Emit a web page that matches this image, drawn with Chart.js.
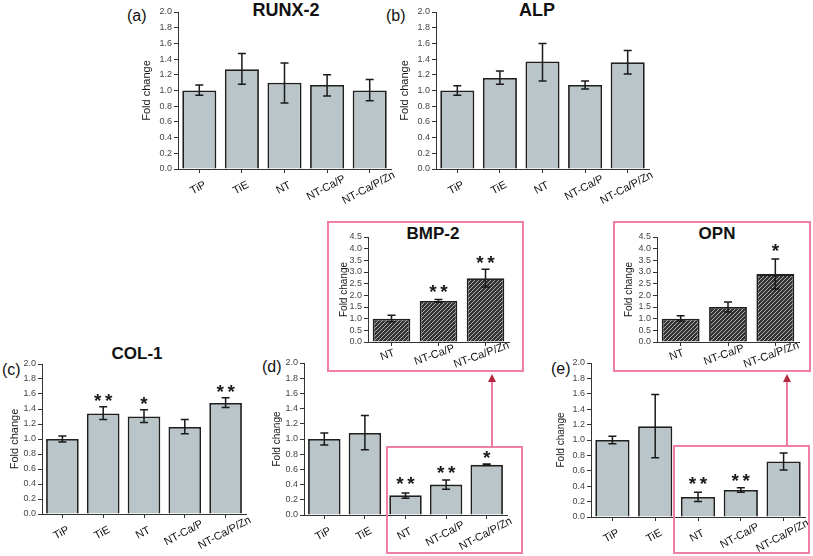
<!DOCTYPE html>
<html>
<head>
<meta charset="utf-8">
<script src="https://cdn.jsdelivr.net/npm/chart.js@4.4.1/dist/chart.umd.min.js"></script>
<style>
  body { margin: 0; background: #fff; width: 813px; height: 556px; position: relative; overflow: hidden;
         font-family: "Liberation Sans", Arial, sans-serif; }
  canvas { position: absolute; }
  .lbl { position: absolute; font-size: 16px; color: #111; line-height: 1; transform: translateY(-50%); }
  .ttl { position: absolute; font-weight: bold; color: #111; transform: translate(-50%, -50%); white-space: nowrap; line-height: 1; }
  .box { position: absolute; border: 2px solid #ef7fa7; box-sizing: border-box; z-index: 5; }
  .arr { position: absolute; width: 2px; background: #ec7aa2; z-index: 5; }
  .head { position: absolute; width: 0; height: 0; border-left: 4px solid transparent; z-index: 6;
          border-right: 4px solid transparent; border-bottom: 8px solid #b3283f; }
</style>
</head>
<body>
<!-- 粉色框与箭头 -->
<div class="box" style="left:327px;top:221px;width:197px;height:151px"></div>
<div class="box" style="left:613px;top:221px;width:198px;height:151px"></div>
<div class="box" style="left:386px;top:446px;width:137px;height:108px"></div>
<div class="box" style="left:673px;top:445px;width:137px;height:109px"></div>
<div class="arr" style="left:491px;top:381px;height:66px"></div>
<div class="head" style="left:488px;top:374px"></div>
<div class="arr" style="left:786px;top:381px;height:65px"></div>
<div class="head" style="left:783px;top:374px"></div>

<div class="lbl" style="left:127px;top:16px">(a)</div>
<div class="lbl" style="left:386px;top:16px">(b)</div>
<div class="lbl" style="left:2px;top:370px">(c)</div>
<div class="lbl" style="left:262px;top:367px">(d)</div>
<div class="lbl" style="left:551px;top:369px">(e)</div>

<div class="ttl" style="left:286px;top:10px;font-size:18px">RUNX-2</div>
<div class="ttl" style="left:537px;top:10px;font-size:18px">ALP</div>
<div class="ttl" style="left:137px;top:353px;font-size:17px">COL-1</div>
<div class="ttl" style="left:433px;top:233px;font-size:17px">BMP-2</div>
<div class="ttl" style="left:717px;top:233px;font-size:17px">OPN</div>

<script>
const mainCats = ["TiP", "TiE", "NT", "NT-Ca/P", "NT-Ca/P/Zn"];
const insetCats = ["NT", "NT-Ca/P", "NT-Ca/P/Zn"];
const mainTicks = [0, 0.2, 0.4, 0.6, 0.8, 1.0, 1.2, 1.4, 1.6, 1.8, 2.0];
const insetTicks = [0, 0.5, 1.0, 1.5, 2.0, 2.5, 3.0, 3.5, 4.0, 4.5];

// (a) RUNX-2
const runxMean = [1.0, 1.27, 1.10, 1.07, 1.0];
const runxLo = [0.94, 1.08, 0.84, 0.93, 0.87];
const runxHi = [1.07, 1.47, 1.35, 1.20, 1.14];

// (b) ALP
const alpMean = [1.0, 1.16, 1.37, 1.07, 1.36];
const alpLo = [0.94, 1.08, 1.12, 1.02, 1.21];
const alpHi = [1.06, 1.25, 1.60, 1.12, 1.51];

// (c) COL-1
const colMean = [1.0, 1.34, 1.30, 1.16, 1.48];
const colLo = [0.96, 1.26, 1.22, 1.07, 1.42];
const colHi = [1.04, 1.43, 1.39, 1.26, 1.55];
const colStars = ["", "**", "*", "", "**"];
const colStarAt = [0, 1.56, 1.52, 0, 1.68];

// (d)
const dMean = [1.0, 1.08, 0.26, 0.40, 0.66];
const dLo = [0.92, 0.86, 0.22, 0.34, 0.655];
const dHi = [1.08, 1.31, 0.29, 0.46, 0.67];
const dStars = ["", "", "**", "**", "*"];
const dStarAt = [0, 0, 0.46, 0.61, 0.80];

// (e)
const eMean = [1.0, 1.18, 0.26, 0.35, 0.72];
const eLo = [0.95, 0.77, 0.20, 0.32, 0.61];
const eHi = [1.05, 1.59, 0.32, 0.38, 0.83];
const eStars = ["", "", "**", "**", ""];
const eStarAt = [0, 0, 0.48, 0.52, 0];

// BMP-2 插图
const bmpMean = [1.0, 1.76, 2.73];
const bmpLo = [0.87, 1.70, 2.36];
const bmpHi = [1.15, 1.82, 3.12];
const bmpStars = ["", "**", "**"];
const bmpStarAt = [0, 2.31, 3.56];

// OPN 插图
const opnMean = [1.0, 1.50, 2.91];
const opnLo = [0.90, 1.29, 2.27];
const opnHi = [1.12, 1.71, 3.56];
const opnStars = ["", "", "*"];
const opnStarAt = [0, 0, 4.07];

const FONT = '"Liberation Sans", Arial, sans-serif';
const BAR_FILL = "#b9c5c8";

function hatchPattern() {
  const c = document.createElement("canvas");
  c.width = 4; c.height = 4;
  const g = c.getContext("2d");
  g.fillStyle = "#333";
  g.fillRect(0, 0, 4, 4);
  g.strokeStyle = "#bdbdbd";
  g.lineWidth = 0.9;
  g.beginPath();
  g.moveTo(0, 4); g.lineTo(4, 0);
  g.moveTo(-1, 1); g.lineTo(1, -1);
  g.moveTo(3, 5); g.lineTo(5, 3);
  g.stroke();
  return g.createPattern(c, "repeat");
}

/** 误差线 + 显著性星号 */
const errorBars = {
  id: "errorBars",
  afterDatasetsDraw(chart, args, opts) {
    const meta = chart.getDatasetMeta(0);
    const y = chart.scales.y;
    const ctx = chart.ctx;
    ctx.save();
    ctx.strokeStyle = "#1a1a1a";
    ctx.lineWidth = 1.5;
    meta.data.forEach((bar, i) => {
      const top = y.getPixelForValue(opts.hi[i]);
      const bot = y.getPixelForValue(opts.lo[i]);
      ctx.beginPath();
      ctx.moveTo(bar.x, top); ctx.lineTo(bar.x, bot);
      ctx.moveTo(bar.x - 4, top); ctx.lineTo(bar.x + 4, top);
      ctx.moveTo(bar.x - 4, bot); ctx.lineTo(bar.x + 4, bot);
      ctx.stroke();
    });
    ctx.fillStyle = "#1a1a1a";
    ctx.font = "bold 19px " + FONT;
    ctx.textAlign = "center";
    ctx.textBaseline = "alphabetic";
    (opts.stars || []).forEach((s, i) => {
      if (!s) return;
      const bx = meta.data[i].x;
      const py = y.getPixelForValue(opts.starAt[i]) + 10;
      const n = s.length;
      for (let k = 0; k < n; k++) {
        ctx.fillText("*", bx + (k - (n - 1) / 2) * 11, py);
      }
    });
    ctx.restore();
  },
};

/** 居中旋转的 X 轴标签 */
const xLabels = {
  id: "xLabels",
  afterDraw(chart, args, opts) {
    const x = chart.scales.x;
    const ctx = chart.ctx;
    ctx.save();
    ctx.fillStyle = "#111";
    ctx.font = "11px " + FONT;
    ctx.textAlign = "center";
    ctx.textBaseline = "middle";
    chart.data.labels.forEach((lab, i) => {
      const px = x.getPixelForTick(i) + opts.dx;
      ctx.save();
      ctx.translate(px, x.top + opts.dy);
      ctx.rotate(-opts.rot * Math.PI / 180);
      ctx.fillText(lab, 0, 0);
      ctx.restore();
    });
    ctx.restore();
  },
};

function makeChart(p) {
  const padTop = 8, padRight = 12;
  const cv = document.createElement("canvas");
  cv.width = p.yW + (p.R - p.L) + padRight;
  cv.height = padTop + (p.B - p.T) + p.xH;
  cv.style.left = (p.L - p.yW) + "px";
  cv.style.top = (p.T - padTop) + "px";
  document.body.appendChild(cv);

  return new Chart(cv.getContext("2d"), {
    type: "bar",
    data: {
      labels: p.labels,
      datasets: [{
        data: p.mean,
        backgroundColor: p.inset ? hatchPattern() : BAR_FILL,
        borderColor: "#1f1f1f",
        borderWidth: 1.8,
        barPercentage: 0.8,
        categoryPercentage: 1.0,
      }],
    },
    options: {
      responsive: false,
      animation: false,
      layout: { padding: { top: padTop, right: padRight, left: 0, bottom: 0 } },
      plugins: {
        legend: { display: false },
        tooltip: { enabled: false },
        errorBars: { lo: p.lo, hi: p.hi, stars: p.stars, starAt: p.starAt },
        xLabels: { rot: p.rot, dy: p.dy, dx: p.dx },
      },
      scales: {
        x: {
          offset: true,
          grid: { offset: false, drawOnChartArea: false, tickLength: 4, color: "#333" },
          border: { color: "#333", width: 1 },
          ticks: { display: false },
          afterFit(s) { s.height = p.xH; },
        },
        y: {
          min: 0,
          max: p.max,
          afterBuildTicks(s) { s.ticks = p.ticks.map((v) => ({ value: v })); },
          ticks: {
            autoSkip: false,
            font: { size: 9, family: FONT },
            color: "#444",
            padding: 2,
            callback: (v) => Number(v).toFixed(1),
          },
          grid: { drawOnChartArea: false, tickLength: 4, color: "#333" },
          border: { color: "#333", width: 1 },
          title: {
            display: true,
            text: "Fold change",
            font: { size: p.yFont, family: FONT },
            color: "#1a1a1a",
            padding: 0,
          },
          afterFit(s) { s.width = p.yW; },
        },
      },
    },
    plugins: [errorBars, xLabels],
  });
}

const mainAxis = { max: 2.0, ticks: mainTicks, xH: 52, rot: 28, dy: 19, dx: -1, labels: mainCats };
const insetAxis = { max: 4.5, ticks: insetTicks, xH: 40, rot: 20, dy: 13, dx: -4, labels: insetCats, inset: true };

makeChart({ ...mainAxis, L: 178, R: 391, T: 12, B: 169, yW: 38, yFont: 11,
  mean: runxMean, lo: runxLo, hi: runxHi });
makeChart({ ...mainAxis, L: 436, R: 649, T: 12, B: 169, yW: 38, yFont: 11,
  mean: alpMean, lo: alpLo, hi: alpHi });
makeChart({ ...mainAxis, L: 42, R: 246, T: 364, B: 514, yW: 34, yFont: 11,
  mean: colMean, lo: colLo, hi: colHi, stars: colStars, starAt: colStarAt });
makeChart({ ...mainAxis, L: 304, R: 507, T: 363, B: 515, yW: 33, yFont: 10,
  mean: dMean, lo: dLo, hi: dHi, stars: dStars, starAt: dStarAt });
makeChart({ ...mainAxis, L: 591, R: 805, T: 363, B: 517, yW: 36, yFont: 10,
  mean: eMean, lo: eLo, hi: eHi, stars: eStars, starAt: eStarAt });
makeChart({ ...insetAxis, L: 368, R: 509, T: 237, B: 342, yW: 30, yFont: 10,
  mean: bmpMean, lo: bmpLo, hi: bmpHi, stars: bmpStars, starAt: bmpStarAt });
makeChart({ ...insetAxis, L: 657, R: 799, T: 237, B: 342, yW: 34, yFont: 10,
  mean: opnMean, lo: opnLo, hi: opnHi, stars: opnStars, starAt: opnStarAt });
</script>
</body>
</html>
